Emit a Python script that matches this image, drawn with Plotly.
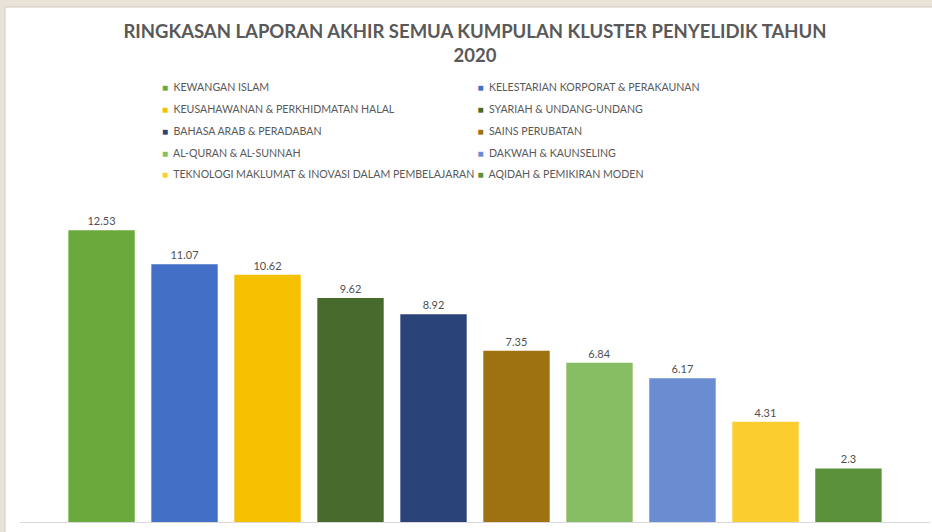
import plotly.graph_objects as go

# ---- data ----
clusters = [
    "KEWANGAN ISLAM",
    "KELESTARIAN KORPORAT & PERAKAUNAN",
    "KEUSAHAWANAN & PERKHIDMATAN HALAL",
    "SYARIAH & UNDANG-UNDANG",
    "BAHASA ARAB & PERADABAN",
    "SAINS PERUBATAN",
    "AL-QURAN & AL-SUNNAH",
    "DAKWAH & KAUNSELING",
    "TEKNOLOGI MAKLUMAT & INOVASI DALAM PEMBELAJARAN",
    "AQIDAH & PEMIKIRAN MODEN",
]
scores = [12.53, 11.07, 10.62, 9.62, 8.92, 7.35, 6.84, 6.17, 4.31, 2.3]
colors = ["#6aaa3c", "#4370c6", "#f5c000", "#466b2c", "#2a4479",
          "#9e7210", "#87bd63", "#698dd0", "#fbcd2f", "#5b913a"]
category = ["2020"]

FONT = "Lato"
W, H = 932, 532
ML, MR, MT, MB = 20, 2, 196, 10
PW = W - ML - MR
PH = H - MT - MB

def px_x(p):
    return (p - ML) / PW

def px_y(p):
    return (H - MB - p) / PH

fig = go.Figure()

for name, val, col in zip(clusters, scores, colors):
    fig.add_trace(go.Bar(
        x=category, y=[val], name=name, legendgroup=name, showlegend=False,
        marker=dict(color=col, line=dict(width=0)),
        text=[f"{val:g}"], textposition="outside", cliponaxis=False,
        textfont=dict(family=FONT, size=11, color="#505050"),
        hoverinfo="name+y",
    ))

# legend entries: coloured square glyph + label (swatch drawn as text so the
# gap to the label matches the original)
for name, col in zip(clusters, colors):
    fig.add_trace(go.Scatter(
        x=[None], y=[None], mode="markers", legendgroup=name,
        name=(f"<span style='font-size:10px;color:{col}'>■</span>"
              f"<span style='font-size:10.6px'>  {name}</span>"),
        marker=dict(symbol="square", size=6, color="rgba(0,0,0,0)",
                    line=dict(width=0)),
        showlegend=True, hoverinfo="skip",
    ))

fig.update_layout(
    width=W, height=H,
    margin=dict(l=ML, r=MR, t=MT, b=MB, autoexpand=False),
    paper_bgcolor="#e9e2d6",
    plot_bgcolor="rgba(0,0,0,0)",
    font=dict(family=FONT, color="#595959"),
    title=dict(
        text="RINGKASAN LAPORAN AKHIR SEMUA KUMPULAN KLUSTER PENYELIDIK TAHUN<br>2020",
        font=dict(family=FONT, size=18.5, color="#595959", weight="bold"),
        x=0.5, xref="paper", xanchor="center",
        y=1 - 38 / H, yref="container", yanchor="top",
    ),
    barmode="group", bargap=0.088, bargroupgap=0.2,
    showlegend=True,
    legend=dict(
        orientation="h", entrywidth=270.5, entrywidthmode="pixels",
        x=px_x(122), xanchor="left", y=px_y(69.5), yanchor="top",
        font=dict(family=FONT, size=14.5, color="#595959"),
        bgcolor="rgba(0,0,0,0)", traceorder="normal",
    ),
    xaxis=dict(showticklabels=False, ticks="", showgrid=False, zeroline=False,
               showline=True, linecolor="#d9d9d9", linewidth=1),
    yaxis=dict(range=[0, 14], visible=False, showgrid=False, zeroline=False),
    shapes=[dict(type="rect", xref="paper", yref="paper",
                 x0=px_x(5), x1=px_x(W + 10), y0=px_y(H + 10), y1=px_y(7),
                 fillcolor="white", line=dict(color="#cfcac2", width=1),
                 layer="below")],
)

fig.write_html("out.html",
               config={"displayModeBar": False},
               post_script="document.body.style.margin='0';"
                           "document.body.style.overflow='hidden';")
